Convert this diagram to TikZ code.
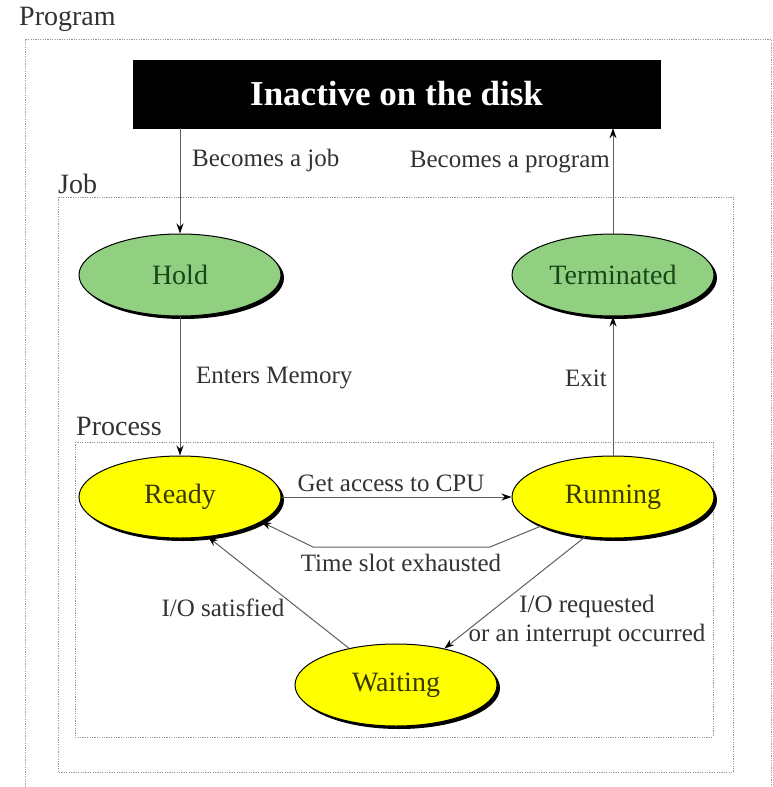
\documentclass[tikz,border=0pt]{standalone}
\usepackage{fontspec}
\setmainfont{Liberation Serif}
\usetikzlibrary{shapes.geometric,shadows,arrows.meta}
\definecolor{gfill}{RGB}{144,208,128}
\definecolor{gtext}{RGB}{25,70,25}
\definecolor{yfill}{RGB}{255,255,0}
\definecolor{ytext}{RGB}{55,55,0}
\definecolor{ltext}{RGB}{50,50,50}
\definecolor{lcol}{RGB}{95,95,95}
\definecolor{dcol}{RGB}{150,150,150}
\tikzset{
  stateA/.style={ellipse, draw=black, line width=1pt, minimum width=202pt, minimum height=82pt, inner sep=0pt,
    drop shadow={shadow xshift=3pt, shadow yshift=-3pt, fill=black, opacity=1},
    font=\fontsize{28}{32}\selectfont},
  greenst/.style={stateA, fill=gfill, text=gtext},
  yellowst/.style={stateA, fill=yfill, text=ytext},
  lbl/.style={text=ltext, inner sep=0pt, font=\fontsize{25}{29}\selectfont},
  boxlbl/.style={text=ltext, inner sep=0pt, font=\fontsize{28}{32}\selectfont, anchor=west},
  dotbox/.style={draw=dcol, line width=1pt, dash pattern=on 1.2pt off 1.2pt},
  arr/.style={draw=lcol, line width=1pt, -{Stealth[length=10pt,width=7pt,color=black]}},
}
\begin{document}
\begin{tikzpicture}[x=1pt,y=-1pt]
\useasboundingbox (0,0) rectangle (773,787);
% boxes
\draw[dotbox] (25,787) -- (25,39) -- (771,39) -- (771,787);
\draw[dotbox] (58,197) rectangle (733,772);
\draw[dotbox] (75,442) rectangle (713,737);
\node[boxlbl] (lprog) at (19,19) {Program};
\node[boxlbl] (ljob) at (58,184) {Job};
\node[boxlbl] (lproc) at (76,426) {Process};
% disk
\node[fill=black, draw=black, minimum width=527pt, minimum height=68pt, inner sep=0pt,
  text=white, font=\fontsize{35}{40}\selectfont\bfseries] (disk) at (396.5,94) {Inactive on the disk};
% states
\node[greenst] (hold) at (180,275) {Hold};
\node[greenst] (term) at (613,275) {Terminated};
\node[yellowst] (ready) at (180,497) {Ready};
\node[yellowst] (run) at (613,497) {Running};
\node[yellowst] (wait) at (396,685) {Waiting};
% connectors
\draw[arr] (disk.south -| hold) -- (hold.north);
\draw[arr] (term.north) -- (term.north |- disk.south);
\draw[arr] (hold.south) -- (ready.north);
\draw[arr] (run.north) -- (term.south);
\draw[arr] (ready.east) -- (run.west);
\coordinate (ts1) at (490,547);
\coordinate (ts2) at (313,547);
\draw[arr] (run.202) -- (ts1) -- (ts2) -- (ready.-17);
\draw[arr] (wait.142) -- (ready.-55);
\draw[arr] (run.235) -- (wait.37);
% labels
\node[lbl, anchor=west] (l1) at (192,160) {Becomes a job};
\node[lbl, anchor=east] (l2) at (610,162) {Becomes a program};
\node[lbl, anchor=west] (l3) at (196,378) {Enters Memory};
\node[lbl, anchor=east] (l4) at (607,378) {Exit};
\node[lbl] (l5) at (391,483) {Get access to CPU};
\node[lbl] (l6) at (401,563) {Time slot exhausted};
\node[lbl] (l7) at (223,608) {I/O satisfied};
\node[lbl, align=center] (l8) at (587,621) {I/O requested\\or an interrupt occurred};
\end{tikzpicture}
\end{document}
